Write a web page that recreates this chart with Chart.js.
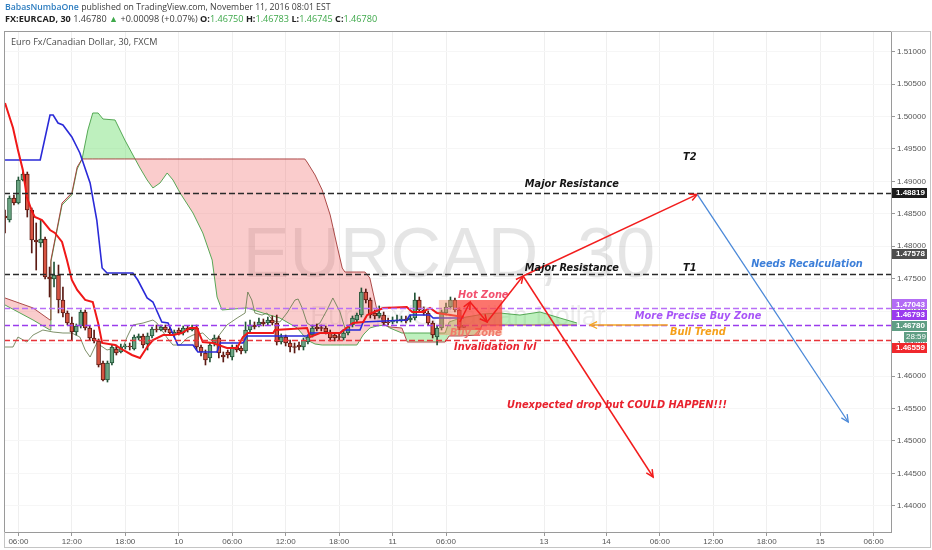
<!DOCTYPE html>
<html>
<head>
<meta charset="utf-8">
<script src="https://cdn.jsdelivr.net/npm/chart.js@4.4.0/dist/chart.umd.min.js"></script>
<style>
  body { margin: 0; background: #fff; }
  #wrap { position: relative; width: 932px; height: 550px; }
  #c { position: absolute; left: 0; top: 0; }
  .hdr { position: absolute; left: 5px; font-family: "Open Sans", sans-serif; line-height: 12px; color: #3c3c3c; white-space: nowrap; }
  #h1 { top: 1px; font-size: 8.7px; }
  #h2 { top: 13px; font-size: 9.1px; }
  .user { color: #2d7dc0; font-weight: 600; }
  .g { color: #3ea84a; }
  b { font-weight: 700; color: #222; }
</style>
</head>
<body>
<div id="wrap">
  <canvas id="c" width="932" height="550"></canvas>
  <div class="hdr" id="h1"><span class="user">BabasNumbaOne</span> published on TradingView.com, November 11, 2016 08:01 EST</div>
  <div class="hdr" id="h2"><b>FX:EURCAD, 30</b> 1.46780 <span class="g">&#9650;</span> +0.00098 (+0.07%) <b>O:</b><span class="g">1.46750</span> <b>H:</b><span class="g">1.46783</span> <b>L:</b><span class="g">1.46745</span> <b>C:</b><span class="g">1.46780</span></div>
</div>
<script>
// 30 minute bars, index 0 = Nov 9 06:00
const firstBar = -3;
const opens = [1.48466,1.48405,1.48745,1.48667,1.49022,1.49114,1.48559,1.48097,1.48051,1.48112,
  1.47526,1.47495,1.47557,1.47172,1.46972,1.46817,1.46678,1.46771,1.46987,1.46740,
  1.46586,1.46540,1.46200,1.45938,1.46200,1.46416,1.46370,1.46447,1.46463,1.46416,
  1.46586,1.46617,1.46493,1.46617,1.46725,1.46709,1.46756,1.46725,1.46632,1.46709,
  1.46663,1.46740,1.46709,1.46740,1.46447,1.46355,1.46277,1.46509,1.46586,1.46324,
  1.46370,1.46293,1.46447,1.46432,1.46386,1.46709,1.46786,1.46786,1.46833,1.46817,
  1.46863,1.46817,1.46524,1.46601,1.46509,1.46447,1.46478,1.46447,1.46524,1.46632,
  1.46756,1.46740,1.46740,1.46678,1.46632,1.46601,1.46586,1.46663,1.46786,1.46863,
  1.46940,1.47295,1.47172,1.46971,1.46925,1.46940,1.46833,1.46833,1.46848,1.46863,
  1.46879,1.46863,1.46894,1.47172,1.47018,1.46971,1.46817,1.46601,1.46740,1.46971,
  1.47064,1.47172,1.47018,1.46750];
const closes = [1.48436,1.48745,1.48667,1.49022,1.49114,1.48559,1.48097,1.48066,1.48112,1.47526,
  1.47495,1.47557,1.47172,1.46972,1.46817,1.46678,1.46771,1.46987,1.46740,1.46586,
  1.46540,1.46170,1.45938,1.46200,1.46447,1.46355,1.46447,1.46463,1.46447,1.46601,
  1.46617,1.46478,1.46617,1.46725,1.46709,1.46756,1.46709,1.46663,1.46678,1.46663,
  1.46740,1.46709,1.46740,1.46447,1.46370,1.46247,1.46478,1.46586,1.46355,1.46293,
  1.46324,1.46447,1.46401,1.46386,1.46709,1.46786,1.46756,1.46833,1.46802,1.46863,
  1.46817,1.46524,1.46601,1.46509,1.46447,1.46440,1.46447,1.46555,1.46601,1.46740,
  1.46725,1.46733,1.46678,1.46586,1.46586,1.46594,1.46663,1.46756,1.46894,1.46940,
  1.47295,1.47172,1.46940,1.46925,1.46971,1.46817,1.46817,1.46848,1.46863,1.46879,
  1.46848,1.46894,1.47172,1.47018,1.46971,1.46817,1.46632,1.46740,1.46987,1.47064,
  1.47172,1.47018,1.46750,1.46780];
const highs = [1.48559,1.48776,1.48791,1.49068,1.49145,1.49145,1.48590,1.48359,1.48405,1.48143,
  1.47680,1.47757,1.47711,1.47372,1.47003,1.46910,1.46802,1.47018,1.47018,1.46771,
  1.46709,1.46571,1.46231,1.46231,1.46478,1.46478,1.46493,1.46493,1.46509,1.46632,
  1.46648,1.46648,1.46663,1.46756,1.46786,1.46786,1.46786,1.46756,1.46709,1.46740,
  1.46771,1.46771,1.46786,1.46786,1.46478,1.46401,1.46509,1.46632,1.46617,1.46370,
  1.46401,1.46478,1.46478,1.46463,1.46833,1.46863,1.46833,1.46894,1.46879,1.46910,
  1.46925,1.46940,1.46648,1.46632,1.46555,1.46509,1.46524,1.46586,1.46632,1.46786,
  1.46802,1.46786,1.46771,1.46709,1.46663,1.46648,1.46694,1.46786,1.46925,1.46971,
  1.47357,1.47341,1.47203,1.47018,1.47080,1.46987,1.46894,1.46910,1.46940,1.46925,
  1.46925,1.46940,1.47280,1.47218,1.47064,1.47003,1.46848,1.46771,1.47018,1.47126,
  1.47218,1.47203,1.47049,1.46783];
const lows = [1.48205,1.48374,1.48636,1.48652,1.49006,1.48451,1.47897,1.47634,1.47989,1.47495,
  1.47218,1.47372,1.46972,1.46910,1.46786,1.46555,1.46632,1.46740,1.46709,1.46555,
  1.46509,1.46139,1.45923,1.45907,1.46170,1.46324,1.46355,1.46416,1.46401,1.46401,
  1.46555,1.46432,1.46401,1.46586,1.46678,1.46694,1.46678,1.46632,1.46601,1.46632,
  1.46632,1.46678,1.46694,1.46401,1.46308,1.46170,1.46216,1.46463,1.46277,1.46216,
  1.46277,1.46247,1.46370,1.46339,1.46355,1.46678,1.46725,1.46756,1.46771,1.46786,
  1.46786,1.46478,1.46493,1.46463,1.46370,1.46355,1.46401,1.46401,1.46493,1.46601,
  1.46694,1.46694,1.46648,1.46540,1.46540,1.46555,1.46555,1.46632,1.46756,1.46833,
  1.46910,1.47126,1.46894,1.46879,1.46894,1.46786,1.46786,1.46802,1.46817,1.46833,
  1.46817,1.46833,1.46863,1.46987,1.46940,1.46786,1.46586,1.46478,1.46709,1.46940,
  1.47033,1.46987,1.46709,1.46745];

// ichimoku lines, x in bar index
const tenkanX = [-3,-1.2,-0.1,1,1.9,3.1,3.7,5.3,7.1,8.2,9.8,10.9,12,13.2,15,16.7,17.9,18.8,21.7,23.5,
  25.5,27.3,28.9,30.2,32.5,34.7,36.7,38.5,40.1,41.4,43.7,46.8,49.1,50.4,51.5,57.2,57.6,64.8,65.5,67.7,
  72.2,75.1,77.4,78.3,81.9,87.2,88.4,90.8,92.4,94,100];
const tenkanY = [1.50209,1.49824,1.49484,1.49176,1.48760,1.48528,1.48451,1.48405,1.48251,1.48205,
  1.48066,1.47788,1.47480,1.47326,1.47172,1.47141,1.46817,1.46509,1.46478,1.46401,
  1.46324,1.46277,1.46447,1.46555,1.46632,1.46632,1.46663,1.46740,1.46740,1.46524,
  1.46509,1.46432,1.46432,1.46601,1.46663,1.46663,1.46709,1.46740,1.46601,1.46663,
  1.46663,1.46817,1.46833,1.46940,1.47049,1.47064,1.46987,1.46987,1.47049,1.46971,1.46910];
const kijunX = [-3,4.9,7.1,7.8,8.9,10,12,13.8,16.1,17.6,18.8,19.9,25.7,26.8,28.9,30.2,32.2,33.6,35.8,39.2,
  40.3,44.6,45.3,50.4,51.3,64.8,65.5,72.2,72.9,76.7,77.4,87.2,87.9,92.4,93.1,100];
const kijunY = [1.49330,1.49330,1.50024,1.50024,1.49900,1.49870,1.49685,1.49438,1.48976,1.48405,
  1.47665,1.47588,1.47588,1.47480,1.47203,1.47141,1.46833,1.46817,1.46478,1.46478,
  1.46370,1.46370,1.46509,1.46509,1.46617,1.46617,1.46663,1.46663,1.46709,1.46709,
  1.46833,1.46863,1.46940,1.46940,1.46894,1.46894];
const chikouX = [-3,-1.2,-0.1,1.9,3.3,5.5,7.8,10,12,13.8,15,16.1,17.6,19.9,21.7,23.5,24.4,25.7,28,30.2,
  31.1,33.4,34.7,36.3,37.9,39.2,41.4,43,44.6,46.8,49.1,50.9,51.5,52.4,53.1,54.7,55.8,57.2,58.7,60.3,
  62.1,62.8,63.7,64.8,66.1,67.7,69.3,70.6,72.2,73.3,74];
const chikouY = [1.46447,1.46447,1.46601,1.46524,1.46632,1.46709,1.46678,1.46663,1.46663,1.46601,
  1.46401,1.46293,1.46509,1.46401,1.46432,1.46447,1.46601,1.46786,1.46817,1.46863,
  1.46817,1.46586,1.46478,1.46478,1.46586,1.46632,1.46663,1.46555,1.46586,1.46786,
  1.46894,1.46971,1.47295,1.47172,1.46971,1.46940,1.46971,1.46848,1.46833,1.46971,
  1.47172,1.47187,1.47049,1.46817,1.46756,1.46817,1.47018,1.47203,1.46987,1.46740,1.46756];
const cloudX = [-3,3.3,7.1,7.3,9.8,12,13.2,14.3,15.6,16.7,17.9,19,21.7,23.9,26.2,27.3,28.9,30.2,31.8,33.4,
  34.7,36.3,39.2,41.4,43.5,44.6,45.7,51.3,54.9,58.7,62.6,64.3,64.8,66.6,68.2,70,71.5,72.7,73.3,76,
  77.4,77.8,78.9,80.5,82.3,83.4,86.1,87.3,95.8,96.7,99.2,103.2,104.1,108.1,112.6,117.1,121.6,125.4];
const spanA = [1.47095,1.46863,1.46709,1.47757,1.48636,1.48791,1.49191,1.49346,1.49793,1.50055,
  1.50055,1.49962,1.49947,1.49638,1.49346,1.49207,1.49022,1.48899,1.48976,1.49130,
  1.49022,1.48822,1.48513,1.48205,1.47788,1.47218,1.47018,1.47049,1.46971,1.46894,
  1.46740,1.46601,1.46555,1.46493,1.46478,1.46478,1.46478,1.46478,1.46478,1.46478,
  1.46632,1.46663,1.46740,1.46771,1.46786,1.46740,1.46663,1.46663,1.46663,1.46833,
  1.46894,1.46940,1.46956,1.46971,1.46940,1.46987,1.46894,1.46817];
const spanB = [1.47203,1.47049,1.46863,1.47788,1.48667,1.48822,1.49222,1.49346,1.49346,1.49346,
  1.49346,1.49346,1.49346,1.49346,1.49346,1.49346,1.49346,1.49346,1.49346,1.49346,
  1.49346,1.49346,1.49346,1.49346,1.49346,1.49346,1.49346,1.49346,1.49346,1.49346,
  1.49346,1.49346,1.49299,1.49099,1.48868,1.48482,1.48020,1.47665,1.47603,1.47603,
  1.47603,1.47603,1.47511,1.47018,1.46786,1.46756,1.46740,1.46524,1.46524,1.46617,
  1.46617,1.46632,1.46786,1.46786,1.46786,1.46786,1.46786,1.46786];

// axes
const priceTicks = [1.44,1.445,1.45,1.455,1.46,1.465,1.47,1.475,1.48,1.485,1.49,1.495,1.5,1.505,1.51];
const timeTicks = [0,12,24,36,48,60,72,84,96,118,132,144,156,168,180,192];
const timeLabels = ['06:00','12:00','18:00','10','06:00','12:00','18:00','11','06:00','13','14','06:00','12:00','18:00','15','06:00'];

// drawn levels
const levels = [1.48819, 1.47578, 1.47043, 1.46793, 1.46559];
const levelColors = ['#2a2a2a', '#2a2a2a', '#b86ff7', '#9a3cec', '#e8343a'];
const axisLabels = [1.48819, 1.47578, 1.47043, 1.46793, 1.46780, 1.46559];
const axisLabelColors = ['#1c1c1c', '#4d4d4d', '#b36cf5', '#9a3aee', '#5f9e84', '#f0282d'];
const axisLabelShift = [0, -19.5, -4, -10, 0.5, 8.5];

const upCol = '#6ba583', downCol = '#d75442', upEdge = '#225437', downEdge = '#5b1a13';
const idx = opens.map((o, k) => firstBar + k);
const isUp = opens.map((o, k) => closes[k] >= o);

const pts = (xs, ys) => xs.map((x, k) => ({ x: x, y: ys[k] }));

const notes = [
  { t: 'Major Resistance', x: 113.7, y: 1.48960, c: '#161616' },
  { t: 'Major Resistance', x: 113.7, y: 1.47665, c: '#161616' },
  { t: 'T2', x: 149.2, y: 1.49376, c: '#161616' },
  { t: 'T1', x: 149.2, y: 1.47665, c: '#161616' },
  { t: 'Needs Recalculation', x: 164.5, y: 1.47727, c: '#3d7fd9' },
  { t: 'Hot Zone', x: 98.7, y: 1.47249, c: '#f2506e' },
  { t: 'Invalidation lvl', x: 97.8, y: 1.46447, c: '#e8222e' },
  { t: 'More Precise Buy Zone', x: 138.4, y: 1.46925, c: '#a855f7' },
  { t: 'Bull Trend', x: 146.3, y: 1.46678, c: '#f5a01a' },
  { t: 'Unexpected drop but COULD HAPPEN!!!', x: 109.7, y: 1.45553, c: '#e8222e' }
];

const overlay = {
  id: 'overlay',
  beforeDatasetsDraw(chart) {
    const ctx = chart.ctx, a = chart.chartArea;
    ctx.save();
    ctx.beginPath(); ctx.rect(a.left, a.top, a.right - a.left, a.bottom - a.top); ctx.clip();
    ctx.textAlign = 'center'; ctx.textBaseline = 'middle';
    ctx.fillStyle = 'rgba(0,0,0,0.1)';
    ctx.font = '70px "Liberation Sans"';
    ctx.fillText('EURCAD, 30', 449, 258);
    ctx.fillStyle = 'rgba(0,0,0,0.075)';
    ctx.font = '27px "Liberation Sans"';
    ctx.fillText('Euro Fx/Canadian Dollar', 458, 318);
    ctx.restore();
  },
  afterDatasetsDraw(chart) {
    const ctx = chart.ctx, a = chart.chartArea;
    const X = v => chart.scales.x.getPixelForValue(v);
    const Y = v => chart.scales.y.getPixelForValue(v);
    ctx.save();
    ctx.beginPath(); ctx.rect(a.left, a.top, a.right - a.left, a.bottom - a.top); ctx.clip();

    // horizontal levels
    levels.forEach((v, k) => {
      const y = Math.round(Y(v)) + 0.5;
      ctx.strokeStyle = levelColors[k];
      ctx.lineWidth = k < 2 ? 1.4 : 1.3;
      ctx.setLineDash([6, 3]);
      ctx.beginPath(); ctx.moveTo(a.left, y); ctx.lineTo(a.right, y); ctx.stroke();
    });
    ctx.setLineDash([]);

    ctx.font = 'italic bold 9.8px "DejaVu Sans"';
    ctx.textBaseline = 'middle'; ctx.textAlign = 'left';
    ctx.fillStyle = '#ee6f6f';
    ctx.fillText('Buy Zone', X(96.9), Y(1.46663));

    // zones
    ctx.fillStyle = 'rgba(245,140,100,0.45)';
    ctx.fillRect(X(94.4), Y(1.47172), X(108.6) - X(94.4), Y(1.46632) - Y(1.47172));
    ctx.fillStyle = 'rgba(255,45,45,0.55)';
    ctx.fillRect(X(98.5), Y(1.47172), X(108.6) - X(98.5), Y(1.46709) - Y(1.47172));

    // arrows
    const arrow = (p, q, color, w) => {
      const x1 = X(p[0]), y1 = Y(p[1]), x2 = X(q[0]), y2 = Y(q[1]);
      ctx.strokeStyle = color; ctx.lineWidth = w;
      ctx.beginPath(); ctx.moveTo(x1, y1); ctx.lineTo(x2, y2); ctx.stroke();
      const ang = Math.atan2(y2 - y1, x2 - x1), L = 8;
      ctx.beginPath();
      ctx.moveTo(x2 - L * Math.cos(ang - 0.45), y2 - L * Math.sin(ang - 0.45));
      ctx.lineTo(x2, y2);
      ctx.lineTo(x2 - L * Math.cos(ang + 0.45), y2 - L * Math.sin(ang + 0.45));
      ctx.stroke();
    };
    const red = '#f21d1d';
    arrow([99.1, 1.46833], [101.4, 1.47141], red, 1.5);
    arrow([101.4, 1.47141], [105.2, 1.46833], red, 1.5);
    arrow([105.2, 1.46833], [113.3, 1.47542], red, 1.5);
    arrow([113.3, 1.47542], [152.4, 1.48800], red, 1.5);
    arrow([113.3, 1.47542], [142.5, 1.44443], red, 1.5);
    arrow([152.4, 1.48800], [186.3, 1.45291], '#4a88d8', 1.3);
    arrow([145.8, 1.46786], [128.3, 1.46786], '#f5a623', 1.3);

    // text notes
    notes.forEach(n => {
      ctx.fillStyle = n.c;
      ctx.fillText(n.t, X(n.x), Y(n.y));
    });
    ctx.restore();

    ctx.save();
    ctx.fillStyle = '#4a4a4a';
    ctx.font = '9.1px "Open Sans"';
    ctx.textBaseline = 'middle';
    ctx.fillText('Euro Fx/Canadian Dollar, 30, FXCM', 11, 42);
    ctx.restore();
  },
  afterDraw(chart) {
    const ctx = chart.ctx, a = chart.chartArea;
    const Y = v => chart.scales.y.getPixelForValue(v);
    ctx.save();
    ctx.strokeStyle = '#c4c4c4'; ctx.lineWidth = 1;
    ctx.strokeRect(4.5, 31.5, 926, 516);
    ctx.strokeStyle = '#9a9a9a';
    ctx.beginPath();
    ctx.moveTo(a.left + 0.5, a.top); ctx.lineTo(a.left + 0.5, a.bottom);
    ctx.moveTo(a.left, a.top + 0.5); ctx.lineTo(a.right, a.top + 0.5);
    ctx.stroke();

    ctx.textBaseline = 'middle'; ctx.textAlign = 'left';
    axisLabels.forEach((v, k) => {
      const y = Y(v) + axisLabelShift[k];
      ctx.font = 'bold 8px "Liberation Sans"';
      ctx.fillStyle = axisLabelColors[k];
      ctx.fillRect(a.right + 1, Math.round(y - 5), 35, 10);
      ctx.fillStyle = '#fff';
      ctx.fillText(v.toFixed(5), a.right + 5, y);
      if (k === 4) {
        ctx.font = '8px "Liberation Sans"';
        ctx.fillStyle = axisLabelColors[k];
        ctx.fillRect(a.right + 13, Math.round(y + 6), 23, 10);
        ctx.fillStyle = '#fff';
        ctx.fillText('28:59', a.right + 15, y + 11);
      }
    });
    ctx.restore();
  }
};

new Chart(document.getElementById('c'), {
  type: 'bar',
  data: {
    datasets: [
      { type: 'line', label: 'Lead 1', data: pts(cloudX, spanA), borderColor: 'rgba(70,160,70,0.9)', borderWidth: 1,
        pointRadius: 0, tension: 0, order: 6,
        fill: { target: '+1', above: 'rgba(100,220,100,0.42)', below: 'rgba(240,100,100,0.33)' } },
      { type: 'line', label: 'Lead 2', data: pts(cloudX, spanB), borderColor: 'rgba(165,55,55,0.9)', borderWidth: 1,
        pointRadius: 0, tension: 0, fill: false, order: 5 },
      { type: 'line', label: 'Lagging Span', data: pts(chikouX, chikouY), borderColor: 'rgba(105,125,80,0.85)', borderWidth: 1,
        pointRadius: 0, tension: 0, fill: false, order: 4 },
      { type: 'bar', label: 'wicks', data: idx.map((x, k) => ({ x: x, y: [lows[k], highs[k]] })),
        backgroundColor: isUp.map(u => u ? upEdge : downEdge), barThickness: 1, grouped: false, order: 3 },
      { type: 'bar', label: 'bodies', data: idx.map((x, k) => ({ x: x, y: [opens[k], closes[k]] })),
        backgroundColor: isUp.map(u => u ? upCol : downCol), borderColor: isUp.map(u => u ? upEdge : downEdge),
        borderWidth: 1, borderSkipped: false, minBarLength: 1, barThickness: 4, grouped: false, order: 2 },
      { type: 'line', label: 'Base Line', data: pts(kijunX, kijunY), borderColor: '#2a2ad8', borderWidth: 1.6,
        pointRadius: 0, tension: 0, fill: false, order: 1 },
      { type: 'line', label: 'Conversion Line', data: pts(tenkanX, tenkanY), borderColor: '#f01818', borderWidth: 2,
        pointRadius: 0, tension: 0, fill: false, order: 0 }
    ]
  },
  options: {
    responsive: false,
    animation: false,
    devicePixelRatio: 1,
    layout: { padding: { left: 4, top: 31, right: 6, bottom: 0 } },
    plugins: { legend: { display: false }, tooltip: { enabled: false } },
    scales: {
      x: {
        type: 'linear', min: -3.23, max: 195.9, offset: false,
        afterBuildTicks: s => { s.ticks = timeTicks.map(v => ({ value: v })); },
        afterFit: s => { s.height = 18; },
        ticks: { autoSkip: false, maxRotation: 0, padding: 1, color: '#555',
          font: { family: 'Liberation Sans', size: 8 },
          callback: (v, i) => timeLabels[i] },
        grid: { color: '#efefef', tickColor: '#999', tickLength: 4, offset: false },
        border: { color: '#9a9a9a' }
      },
      y: {
        type: 'linear', position: 'right', min: 1.43595, max: 1.51319, beginAtZero: false,
        afterBuildTicks: s => { s.ticks = priceTicks.map(v => ({ value: v })); },
        afterFit: s => { s.width = 35; },
        ticks: { padding: 2, color: '#555', font: { family: 'Liberation Sans', size: 8 },
          callback: v => v.toFixed(5) },
        grid: { color: '#f6f6f6', tickColor: '#999', tickLength: 4 },
        border: { color: '#9a9a9a' }
      }
    }
  },
  plugins: [overlay]
});
</script>
</body>
</html>
